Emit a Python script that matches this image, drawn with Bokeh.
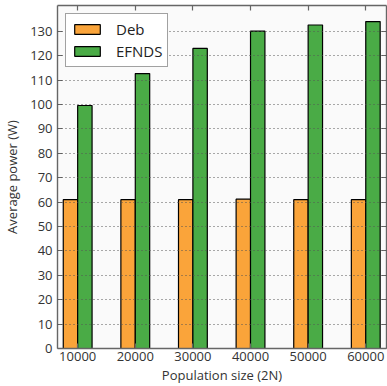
from bokeh.plotting import figure
from bokeh.models import (Range1d, LinearAxis, FixedTicker, Legend, LegendItem,
                          ColumnDataSource)
from bokeh.embed import file_html
from bokeh.resources import INLINE
from bokeh.transform import dodge
import numpy as np

# Population sizes (2N) and average power in watts for each method
population = ["10000", "20000", "30000", "40000", "50000", "60000"]
deb_power = [61.0, 61.0, 61.0, 61.2, 61.0, 61.0]
efnds_power = [99.6, 112.7, 123.0, 130.1, 132.6, 134.0]
y_ticks = [0, 10, 20, 30, 40, 50, 60, 70, 80, 90, 100, 110, 120, 130]

FONT = "Open Sans"
SPINE = "#666666"
TEXT = "#333333"

pos = np.arange(len(population))
src = ColumnDataSource(dict(x=pos, deb=deb_power, efnds=efnds_power))

p = figure(width=387, height=386, output_backend="svg", toolbar_location=None,
           x_range=Range1d(-0.35, 5.36), y_range=Range1d(0, 140.6),
           min_border_left=8, min_border_right=1, min_border_top=5,
           min_border_bottom=0, x_axis_location=None, y_axis_location=None)
p.background_fill_color = "#fafafa"
p.border_fill_color = "white"
p.outline_line_color = None

bar_w = 0.25
r_deb = p.vbar(x=dodge("x", -bar_w / 2), top="deb", width=bar_w, source=src,
               fill_color="#faa43a", line_color="black", line_width=1.2)
r_efn = p.vbar(x=dodge("x", bar_w / 2), top="efnds", width=bar_w, source=src,
               fill_color="#4aab46", line_color="black", line_width=1.2)

xt = FixedTicker(ticks=list(pos))
yt = FixedTicker(ticks=y_ticks)


def style_axis(ax, labels=True):
    ax.axis_line_color = SPINE
    ax.axis_line_width = 1.4
    ax.major_tick_line_color = SPINE
    ax.major_tick_line_width = 1.2
    ax.major_tick_in = 5
    ax.major_tick_out = 0
    ax.minor_tick_line_color = None
    if labels:
        ax.major_label_text_font = FONT
        ax.major_label_text_font_size = "13px"
        ax.major_label_text_color = TEXT
        ax.axis_label_text_font = FONT
        ax.axis_label_text_font_size = "13px"
        ax.axis_label_text_font_style = "normal"
        ax.axis_label_text_color = TEXT
    else:
        # tick marks only: the opposite spines carry no labels
        ax.major_label_overrides = {int(t) if float(t).is_integer() else t: ""
                                    for t in ax.ticker.ticks}
        ax.major_label_text_font_size = "1px"
        ax.major_label_standoff = 0


bottom = LinearAxis(ticker=xt, axis_label="Population size (2N)",
                    major_label_overrides={int(i): s for i, s in zip(pos, population)})
style_axis(bottom)
bottom.major_label_standoff = 3
bottom.axis_label_standoff = 2
p.add_layout(bottom, "below")

left = LinearAxis(ticker=yt, axis_label="Average power (W)")
style_axis(left)
left.major_label_standoff = 5
left.axis_label_standoff = 6
p.add_layout(left, "left")

top = LinearAxis(ticker=xt)
style_axis(top, labels=False)
p.add_layout(top, "above")

right = LinearAxis(ticker=yt)
style_axis(right, labels=False)
p.add_layout(right, "right")

p.xgrid.visible = False
p.ygrid.ticker = yt
p.ygrid.grid_line_color = "#555555"
p.ygrid.grid_line_dash = "1 3"
p.ygrid.grid_line_width = 1
p.ygrid.level = "guide"

legend = Legend(items=[LegendItem(label="Deb", renderers=[r_deb]),
                       LegendItem(label="EFNDS", renderers=[r_efn])],
                location="top_left")
legend.margin = 8
legend.padding = 5
legend.spacing = 2
legend.glyph_width = 32
legend.glyph_height = 12
legend.label_height = 12
legend.label_standoff = 13
legend.label_text_font = FONT
legend.label_text_font_size = "15px"
legend.label_text_color = "#222222"
legend.border_line_color = "#444444"
legend.border_line_width = 1.2
legend.background_fill_color = "white"
legend.background_fill_alpha = 1.0
p.add_layout(legend)

open("out.html", "w").write(file_html(p, INLINE))
